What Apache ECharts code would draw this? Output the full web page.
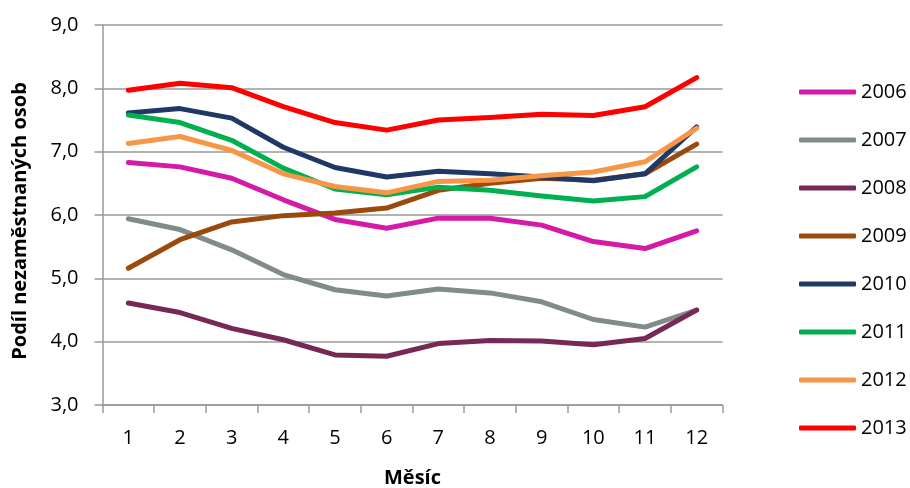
<!DOCTYPE html>
<html>
<head>
<meta charset="utf-8">
<script src="https://cdn.jsdelivr.net/npm/echarts@6/dist/echarts.min.js"></script>
<style>html,body{margin:0;padding:0;background:#fff}#c{width:910px;height:488px}</style>
</head>
<body>
<div id="c"></div>
<script>
const months = ['1','2','3','4','5','6','7','8','9','10','11','12'];
const years = ['2006','2007','2008','2009','2010','2011','2012','2013'];
const s2006 = [6.83, 6.76, 6.58, 6.24, 5.93, 5.79, 5.95, 5.95, 5.84, 5.58, 5.47, 5.75];
const s2007 = [5.94, 5.77, 5.45, 5.06, 4.82, 4.72, 4.83, 4.77, 4.63, 4.35, 4.23, 4.50];
const s2008 = [4.61, 4.46, 4.21, 4.03, 3.79, 3.77, 3.97, 4.02, 4.01, 3.95, 4.05, 4.50];
const s2009 = [5.16, 5.61, 5.89, 5.99, 6.03, 6.11, 6.39, 6.50, 6.58, 6.55, 6.65, 7.12];
const s2010 = [7.61, 7.68, 7.53, 7.07, 6.75, 6.60, 6.69, 6.65, 6.60, 6.54, 6.65, 7.39];
const s2011 = [7.58, 7.46, 7.18, 6.74, 6.41, 6.32, 6.44, 6.39, 6.30, 6.22, 6.29, 6.76];
const s2012 = [7.13, 7.24, 7.02, 6.65, 6.45, 6.35, 6.53, 6.55, 6.62, 6.68, 6.84, 7.37];
const s2013 = [7.97, 8.08, 8.01, 7.71, 7.46, 7.34, 7.50, 7.54, 7.59, 7.57, 7.71, 8.17];
const seriesData = [s2006, s2007, s2008, s2009, s2010, s2011, s2012, s2013];
const colors = ['#D41BA8', '#7F8C8A', '#772955', '#9B4A0D', '#1F3864', '#00B050', '#F79646', '#FF0000'];
const yTitle = 'Podíl nezaměstnaných osob';
const xTitle = 'Měsíc';

const FONT = '"Open Sans", sans-serif';
const chart = echarts.init(document.getElementById('c'), null, {renderer: 'canvas'});
chart.setOption({
  animation: false,
  color: colors,
  textStyle: {fontFamily: FONT},
  grid: {left: 102.5, right: 187.5, top: 25, bottom: 83, containLabel: false, outerBoundsMode: 'none'},
  graphic: [{
    type: 'text',
    x: 20, y: 221,
    rotation: Math.PI / 2,
    style: {text: yTitle, fontFamily: FONT, fontSize: 20, fontWeight: 'bold', fill: '#000',
      align: 'center', verticalAlign: 'middle'}
  }],
  legend: {
    orient: 'vertical',
    left: 794,
    top: 77,
    icon: 'roundRect',
    itemWidth: 57,
    itemHeight: 5,
    itemGap: 28,
    textStyle: {fontFamily: FONT, fontSize: 20, color: '#000', lineHeight: 20},
    data: years
  },
  xAxis: {
    type: 'category',
    data: months,
    boundaryGap: true,
    name: xTitle,
    nameLocation: 'middle',
    nameGap: 63,
    nameTextStyle: {fontFamily: FONT, fontSize: 20, fontWeight: 'bold', color: '#000'},
    axisLine: {lineStyle: {color: '#999', width: 1.5}},
    axisTick: {show: true, alignWithLabel: false, length: 8, lineStyle: {color: '#999', width: 1.5}},
    axisLabel: {fontFamily: FONT, fontSize: 20, color: '#000', margin: 23}
  },
  yAxis: {
    type: 'value',
    min: 3, max: 9, interval: 1,
    axisLine: {show: true, lineStyle: {color: '#999', width: 1.5}},
    axisTick: {show: true, length: 8, lineStyle: {color: '#999', width: 1.5}},
    splitLine: {lineStyle: {color: '#999', width: 1.5}},
    axisLabel: {fontFamily: FONT, fontSize: 20, color: '#000', margin: 24,
      formatter: v => v.toFixed(1).replace('.', ',')}
  },
  series: years.map((y, i) => ({
    name: y,
    type: 'line',
    data: seriesData[i],
    symbol: 'none',
    lineStyle: {width: 5, color: colors[i], cap: 'round', join: 'round'},
    itemStyle: {color: colors[i]}
  }))
});
</script>
</body>
</html>
